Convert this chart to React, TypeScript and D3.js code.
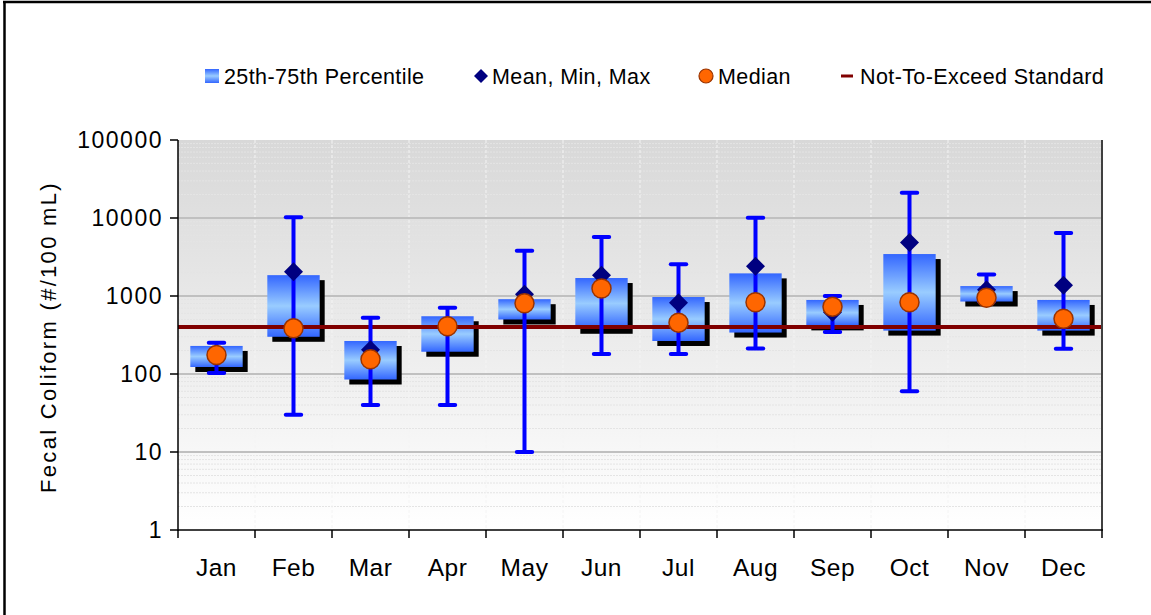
import React from 'react';
import * as d3 from 'd3';

const months = ['Jan', 'Feb', 'Mar', 'Apr', 'May', 'Jun', 'Jul', 'Aug', 'Sep', 'Oct', 'Nov', 'Dec'];
const p25 = [123, 300, 85, 193, 500, 380, 265, 340, 420, 360, 850, 360];
const p75 = [229, 1850, 265, 550, 910, 1700, 970, 1950, 890, 3450, 1340, 890];
const minVals = [103, 30, 40, 40, 10, 180, 180, 213, 345, 60, 850, 211];
const maxVals = [252, 10200, 525, 705, 3800, 5700, 2550, 10100, 1000, 21000, 1880, 6400];
const meanVals = [172, 2050, 205, 400, 1050, 1850, 820, 2400, 620, 4850, 1200, 1370];
const medianVals = [175, 385, 154, 410, 805, 1250, 455, 830, 730, 830, 950, 510];
const standard = 400;
const yTicks = [1, 10, 100, 1000, 10000, 100000];

const W = 1151;
const H = 615;
const L = 178, R = 1102, T = 140, B = 530;
const FONT = 'Liberation Sans, Arial, sans-serif';

// square diamond (rotated square), half diagonal r
const diamondPath = (r: number) => {
  const p = d3.path();
  p.moveTo(0, -r);
  p.lineTo(r, 0);
  p.lineTo(0, r);
  p.lineTo(-r, 0);
  p.closePath();
  return p.toString();
};

export default function App() {
  const x = d3.scaleBand<string>().domain(months).range([L, R]);
  const y = d3.scaleLog().domain([1, 100000]).range([B, T]);
  const bw = x.bandwidth();
  const boxW = bw * 0.68;
  const capW = bw * 0.2;
  const shadow = 5;

  const minorTicks: number[] = [];
  for (let d = 1; d < 100000; d *= 10) {
    for (let k = 2; k <= 9; k++) minorTicks.push(d * k);
  }
  const boundaries = months.map((m) => x(m) as number).concat([R]);

  const legendY = 76;

  return (
    <>
      <style>{'body{margin:0}'}</style>
      <svg width={W} height={H} style={{ display: 'block' }} fontFamily={FONT}>
        <defs>
          <linearGradient id="bg" x1="0" y1="0" x2="0" y2="1">
            <stop offset="0" stopColor="#d8d8d8" />
            <stop offset="1" stopColor="#ffffff" />
          </linearGradient>
          <linearGradient id="boxg" x1="0" y1="0" x2="0" y2="1">
            <stop offset="0" stopColor="#3366ff" />
            <stop offset="0.5" stopColor="#99ccff" />
            <stop offset="1" stopColor="#3366ff" />
          </linearGradient>
        </defs>

        {/* outer frame (cropped) */}
        <line x1={4.5} y1={1} x2={4.5} y2={H} stroke="#000" strokeWidth={2.5} />
        <line x1={3} y1={2} x2={W} y2={2} stroke="#000" strokeWidth={2.5} />

        {/* plot background */}
        <rect x={L} y={T} width={R - L} height={B - T} fill="url(#bg)" />

        {/* minor gridlines */}
        {minorTicks.map((v) => (
          <line key={'mn' + v} x1={L} x2={R} y1={y(v)} y2={y(v)}
            stroke="#e4e4e4" strokeWidth={1} strokeDasharray="2,1" />
        ))}
        {/* vertical gridlines */}
        {boundaries.slice(1, -1).map((bx) => (
          <line key={'vg' + bx} x1={bx} x2={bx} y1={T} y2={B}
            stroke="#f4f4f4" strokeWidth={1} strokeDasharray="3,2" />
        ))}
        {/* major gridlines */}
        {yTicks.slice(1, -1).map((v) => (
          <line key={'mj' + v} x1={L} x2={R} y1={y(v)} y2={y(v)} stroke="#c0c0c0" strokeWidth={2} />
        ))}

        {/* boxes */}
        {months.map((m, i) => {
          const cx = (x(m) as number) + bw / 2;
          const top = y(p75[i]);
          const bot = y(p25[i]);
          return (
            <g key={'box' + m}>
              <rect x={cx - boxW / 2 + shadow} y={top + shadow} width={boxW} height={bot - top} fill="#000" />
              <rect x={cx - boxW / 2} y={top} width={boxW} height={bot - top} fill="url(#boxg)" />
            </g>
          );
        })}

        {/* standard */}
        <line x1={L} x2={R} y1={y(standard)} y2={y(standard)} stroke="#800000" strokeWidth={4} />

        {/* whiskers, mean, median */}
        {months.map((m, i) => {
          const cx = (x(m) as number) + bw / 2;
          return (
            <g key={'w' + m}>
              <line x1={cx} x2={cx} y1={y(maxVals[i])} y2={y(minVals[i])} stroke="#0000ff" strokeWidth={4} />
              <line x1={cx - capW / 2} x2={cx + capW / 2} y1={y(maxVals[i])} y2={y(maxVals[i])}
                stroke="#0000ff" strokeWidth={4} strokeLinecap="round" />
              <line x1={cx - capW / 2} x2={cx + capW / 2} y1={y(minVals[i])} y2={y(minVals[i])}
                stroke="#0000ff" strokeWidth={4} strokeLinecap="round" />
              <path d={diamondPath(9.5)} transform={`translate(${cx},${y(meanVals[i])})`} fill="#000080" />
              <circle cx={cx} cy={y(medianVals[i])} r={9.5} fill="#ff6600" stroke="#993300" strokeWidth={1.5} />
            </g>
          );
        })}

        {/* axes */}
        <line x1={R} x2={R} y1={T} y2={B} stroke="#404040" strokeWidth={2} />
        <line x1={L} x2={L} y1={T} y2={B + 1} stroke="#000" strokeWidth={1.5} />
        <line x1={L} x2={R + 1} y1={B} y2={B} stroke="#000" strokeWidth={1.5} />
        {yTicks.map((v) => (
          <g key={'yt' + v}>
            <line x1={L - 8} x2={L} y1={y(v)} y2={y(v)} stroke="#000" strokeWidth={1.5} />
            <text x={L - 15} y={y(v)} dy="0.36em" textAnchor="end" fontSize={23} letterSpacing={1.5}>{String(v)}</text>
          </g>
        ))}
        {boundaries.map((bx) => (
          <line key={'xt' + bx} x1={bx} x2={bx} y1={B} y2={B + 8} stroke="#000" strokeWidth={1.5} />
        ))}
        {months.map((m) => (
          <text key={'xl' + m} x={(x(m) as number) + bw / 2} y={576} textAnchor="middle" fontSize={24.5} letterSpacing={0.5}>{m}</text>
        ))}

        <text transform={`translate(56,${(T + B) / 2 + 2}) rotate(-90)`} textAnchor="middle" fontSize={22} letterSpacing={2.3}>
          Fecal Coliform (#/100 mL)
        </text>

        {/* legend */}
        <g fontSize={21.5} letterSpacing={0.4}>
          <rect x={205} y={legendY - 7} width={14} height={14} fill="url(#boxg)" />
          <text x={224} y={legendY} dy="0.36em">25th-75th Percentile</text>
          <path d={diamondPath(7)} transform={`translate(481,${legendY})`} fill="#000080" />
          <text x={492} y={legendY} dy="0.36em">Mean, Min, Max</text>
          <circle cx={706} cy={legendY} r={7} fill="#ff6600" stroke="#993300" strokeWidth={1.2} />
          <text x={718} y={legendY} dy="0.36em">Median</text>
          <line x1={841} x2={853} y1={legendY} y2={legendY} stroke="#800000" strokeWidth={3} />
          <text x={860} y={legendY} dy="0.36em">Not-To-Exceed Standard</text>
        </g>
      </svg>
    </>
  );
}
